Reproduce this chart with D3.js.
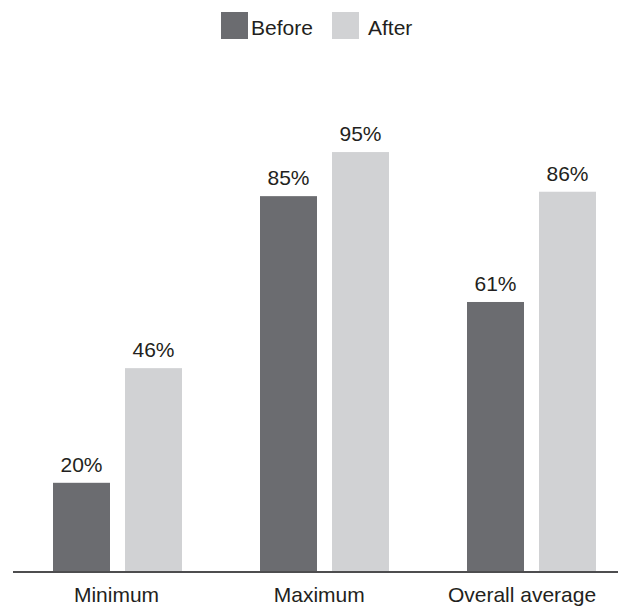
<!DOCTYPE html>
<html>
<head>
<meta charset="utf-8">
<script src="https://cdn.jsdelivr.net/npm/d3@7"></script>
<style>
  html, body { margin: 0; padding: 0; background: #fff; }
  text { font-family: "Liberation Sans", Arial, Helvetica, sans-serif; fill: #231f20; }
</style>
</head>
<body>
<svg id="chart" width="618" height="606"></svg>
<script>
const categories = ["Minimum", "Maximum", "Overall average"];
const seriesNames = ["Before", "After"];
const beforeValues = [20, 85, 61];
const afterValues = [46, 95, 86];
const colors = { Before: "#6b6c70", After: "#d1d2d4" };

const svg = d3.select("#chart");
const fontSize = 21;

const y = d3.scaleLinear().domain([0, 100]).range([571, 130]);
const x0 = d3.scaleBand().domain(categories).range([14, 635]);
const x1 = d3.scaleBand().domain(seriesNames).range([39, 168]).paddingInner(0.2083);
const labelX = d3.scalePoint().domain(categories).range([116.5, 522]);

const data = categories.map((c, i) => ({
  category: c,
  values: [
    { series: "Before", value: beforeValues[i] },
    { series: "After", value: afterValues[i] }
  ]
}));

const groups = svg.selectAll("g.group")
  .data(data)
  .join("g")
  .attr("class", "group")
  .attr("transform", d => `translate(${x0(d.category)},0)`);

groups.selectAll("rect")
  .data(d => d.values)
  .join("rect")
  .attr("x", d => x1(d.series))
  .attr("y", d => y(d.value))
  .attr("width", x1.bandwidth())
  .attr("height", d => y(0) - y(d.value))
  .attr("fill", d => colors[d.series]);

groups.selectAll("text.value")
  .data(d => d.values)
  .join("text")
  .attr("class", "value")
  .attr("x", d => x1(d.series) + x1.bandwidth() / 2)
  .attr("y", d => y(d.value) - 11)
  .attr("text-anchor", "middle")
  .attr("font-size", fontSize)
  .text(d => d.value + "%");

// baseline axis
svg.append("line")
  .attr("x1", 13).attr("x2", 618)
  .attr("y1", 572).attr("y2", 572)
  .attr("stroke", "#4d4d4f")
  .attr("stroke-width", 2);

// category labels
svg.selectAll("text.cat")
  .data(categories)
  .join("text")
  .attr("class", "cat")
  .attr("x", d => labelX(d))
  .attr("y", 602)
  .attr("text-anchor", "middle")
  .attr("font-size", fontSize)
  .text(d => d);

// legend
const legendX = d3.scaleOrdinal().domain(seriesNames).range([221, 332]);
const legend = svg.selectAll("g.legend")
  .data(seriesNames)
  .join("g")
  .attr("class", "legend")
  .attr("transform", d => `translate(${legendX(d)},12)`);
legend.append("rect")
  .attr("width", 27).attr("height", 27)
  .attr("fill", d => colors[d]);
legend.append("text")
  .attr("x", d => d === "Before" ? 30 : 36)
  .attr("y", 23)
  .attr("font-size", fontSize)
  .text(d => d);
</script>
</body>
</html>
